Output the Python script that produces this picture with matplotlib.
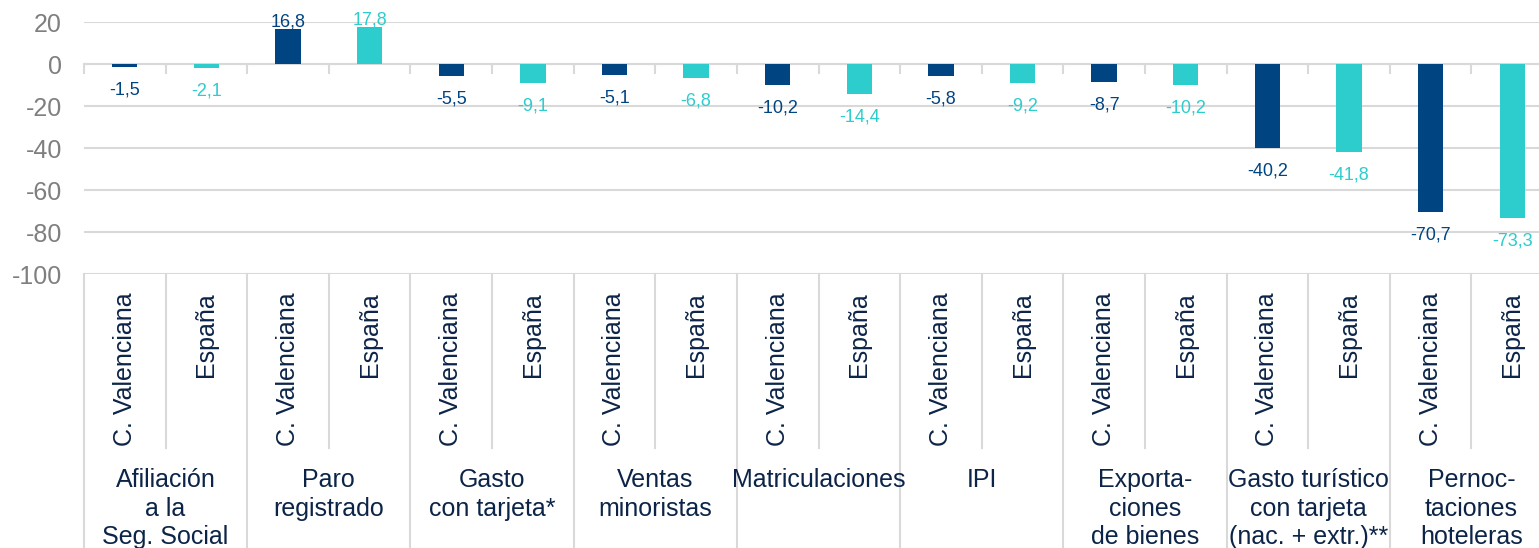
import numpy as np
import matplotlib
matplotlib.use('Agg')
import matplotlib.pyplot as plt
import matplotlib.transforms as mtransforms

plt.rcParams['font.family'] = ['Liberation Sans', 'DejaVu Sans']
plt.rcParams['axes.unicode_minus'] = False

# datos
grupos = ['Afiliación\na la\nSeg. Social', 'Paro\nregistrado', 'Gasto\ncon tarjeta*',
          'Ventas\nminoristas', 'Matriculaciones', 'IPI', 'Exporta-\nciones\nde bienes',
          'Gasto turístico\ncon tarjeta\n(nac. + extr.)**', 'Pernoc-\ntaciones\nhoteleras']
series = ['C. Valenciana', 'España']
c_valenciana = [-1.5, 16.8, -5.5, -5.1, -10.2, -5.8, -8.7, -40.2, -70.7]
espana = [-2.1, 17.8, -9.1, -6.8, -14.4, -9.2, -10.2, -41.8, -73.3]
yticks = [20, 0, -20, -40, -60, -80, -100]

azul = '#004481'
turquesa = '#2dcccd'
navy = '#0b2447'
gris = '#d9d9d9'

fig = plt.figure(figsize=(15.39, 5.48), dpi=100)
ax = fig.add_axes([84 / 1539, 0.5, 1469 / 1539, 252 / 548])

n = len(grupos)
x_cv = np.arange(n) * 2
x_es = x_cv + 1
ancho = 0.31

ax.bar(x_cv, c_valenciana, width=ancho, color=azul, zorder=3)
ax.bar(x_es, espana, width=ancho, color=turquesa, zorder=3)

for xs, vals, col in [(x_cv, c_valenciana, azul), (x_es, espana, turquesa)]:
    for x, v in zip(xs, vals):
        off = 7 if v >= 0 else -23
        ax.annotate(f'{v:.1f}'.replace('.', ','), (x, v), xytext=(0, off),
                    textcoords='offset pixels', ha='center', va='center',
                    fontsize=13, color=col, zorder=4)

ax.set_xlim(-0.5, 2 * n - 0.5)
ax.set_ylim(-100, 20)
ax.set_yticks(yticks)
ax.set_yticklabels([str(t) for t in yticks])
ax.tick_params(axis='y', length=0, pad=15.8, labelsize=18, labelcolor='#7f7f7f')
ax.yaxis.grid(True, color=gris, linewidth=1.5, zorder=0)

for s in ['top', 'right', 'left']:
    ax.spines[s].set_visible(False)
ax.spines['bottom'].set_position(('data', 0))
ax.spines['bottom'].set_color(gris)
ax.spines['bottom'].set_linewidth(1.5)
ax.spines['bottom'].set_zorder(2)
ax.set_xticks(np.arange(-0.5, 2 * n, 1))
ax.set_xticklabels([])
ax.tick_params(axis='x', length=7, width=1.5, color=gris, direction='out')

# caja de categorías bajo el gráfico
trans = mtransforms.blended_transform_factory(ax.transData, ax.transAxes)
fondo = -1.3
interior = -0.69
for i in range(n + 1):
    ax.plot([2 * i - 0.5, 2 * i - 0.5], [0, fondo], transform=trans,
            color=gris, linewidth=1.5, clip_on=False)
for i in range(n):
    ax.plot([2 * i + 0.5, 2 * i + 0.5], [0, interior], transform=trans,
            color=gris, linewidth=1.5, clip_on=False)

px = 1 / 252
for i in range(n):
    for j, nombre in enumerate(series):
        ax.text(2 * i + j, -18 * px, nombre, transform=trans, rotation=90,
                ha='center', va='top', fontsize=18, color=navy)
    ax.text(2 * i + 0.5, -194 * px, grupos[i], transform=trans, ha='center',
            va='top', fontsize=18, color=navy, linespacing=1.24)

fig.savefig('out.png', dpi=100)
